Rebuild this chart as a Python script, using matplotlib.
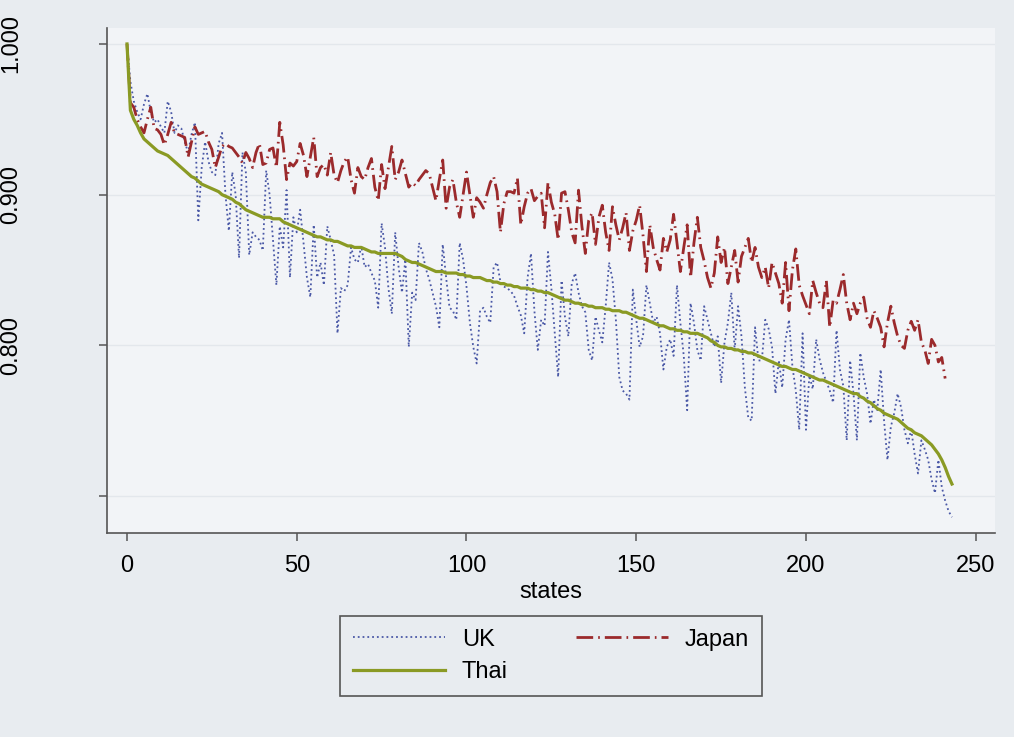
import numpy as np
import matplotlib
matplotlib.use("Agg")
import matplotlib.pyplot as plt

plt.rcParams['font.family'] = ['Liberation Sans', 'DejaVu Sans']

# values, one per state
uk = [
    1.000, 0.975, 0.962, 0.955, 0.950, 0.960, 0.967, 0.955, 0.948, 0.950,
    0.945, 0.941, 0.962, 0.955, 0.941, 0.946, 0.944, 0.935, 0.928, 0.940,
    0.948, 0.883, 0.918, 0.935, 0.922, 0.915, 0.913, 0.934, 0.941, 0.900,
    0.876, 0.915, 0.900, 0.858, 0.928, 0.915, 0.860, 0.875, 0.872, 0.870,
    0.863, 0.916, 0.900, 0.870, 0.840, 0.879, 0.865, 0.903, 0.845, 0.885,
    0.875, 0.890, 0.868, 0.845, 0.832, 0.880, 0.845, 0.855, 0.840, 0.879,
    0.870, 0.860, 0.808, 0.838, 0.836, 0.840, 0.865, 0.857, 0.855, 0.866,
    0.852, 0.854, 0.848, 0.843, 0.825, 0.881, 0.865, 0.838, 0.821, 0.875,
    0.852, 0.835, 0.857, 0.799, 0.835, 0.830, 0.868, 0.862, 0.851, 0.844,
    0.835, 0.826, 0.812, 0.867, 0.845, 0.825, 0.823, 0.817, 0.868, 0.857,
    0.839, 0.815, 0.799, 0.788, 0.823, 0.825, 0.819, 0.815, 0.852, 0.855,
    0.842, 0.839, 0.838, 0.836, 0.833, 0.826, 0.820, 0.808, 0.845, 0.861,
    0.823, 0.797, 0.817, 0.813, 0.862, 0.838, 0.808, 0.779, 0.843, 0.819,
    0.806, 0.841, 0.848, 0.835, 0.826, 0.822, 0.797, 0.790, 0.819, 0.810,
    0.802, 0.826, 0.855, 0.844, 0.817, 0.779, 0.770, 0.768, 0.764, 0.837,
    0.817, 0.799, 0.806, 0.840, 0.828, 0.815, 0.819, 0.808, 0.784, 0.799,
    0.804, 0.793, 0.840, 0.815, 0.793, 0.757, 0.828, 0.815, 0.797, 0.790,
    0.826, 0.817, 0.808, 0.799, 0.806, 0.775, 0.802, 0.815, 0.835, 0.797,
    0.826, 0.806, 0.772, 0.752, 0.750, 0.812, 0.790, 0.790, 0.817, 0.811,
    0.799, 0.768, 0.790, 0.772, 0.804, 0.817, 0.786, 0.770, 0.744, 0.808,
    0.744, 0.780, 0.771, 0.804, 0.791, 0.782, 0.776, 0.770, 0.762, 0.810,
    0.784, 0.773, 0.737, 0.790, 0.768, 0.737, 0.795, 0.779, 0.768, 0.748,
    0.764, 0.757, 0.784, 0.750, 0.724, 0.746, 0.755, 0.768, 0.759, 0.744,
    0.735, 0.744, 0.728, 0.715, 0.737, 0.731, 0.724, 0.711, 0.702, 0.724,
    0.706, 0.697, 0.690, 0.686,
]

japan = [
    1.000, 0.961, 0.958, 0.950, 0.945, 0.941, 0.950, 0.958, 0.944, 0.943,
    0.940, 0.933, 0.940, 0.948, 0.941, 0.940, 0.939, 0.938, 0.925, 0.935,
    0.945, 0.940, 0.941, 0.942, 0.935, 0.930, 0.918, 0.925, 0.932, 0.934,
    0.932, 0.931, 0.928, 0.925, 0.921, 0.928, 0.924, 0.918, 0.928, 0.934,
    0.920, 0.921, 0.930, 0.931, 0.918, 0.948, 0.933, 0.910, 0.921, 0.919,
    0.922, 0.934, 0.926, 0.912, 0.925, 0.938, 0.912, 0.918, 0.920, 0.913,
    0.928, 0.913, 0.908, 0.916, 0.922, 0.925, 0.910, 0.901, 0.918, 0.912,
    0.910, 0.918, 0.924, 0.905, 0.896, 0.920, 0.904, 0.918, 0.932, 0.910,
    0.915, 0.923, 0.914, 0.905, 0.908, 0.906, 0.910, 0.913, 0.916, 0.914,
    0.905, 0.896, 0.910, 0.923, 0.891, 0.905, 0.910, 0.895, 0.885, 0.900,
    0.915, 0.900, 0.885, 0.898, 0.895, 0.891, 0.900, 0.908, 0.912, 0.902,
    0.875, 0.894, 0.902, 0.902, 0.901, 0.911, 0.880, 0.892, 0.901, 0.904,
    0.896, 0.899, 0.901, 0.878, 0.908, 0.895, 0.887, 0.870, 0.901, 0.902,
    0.890, 0.875, 0.868, 0.903, 0.879, 0.861, 0.883, 0.888, 0.867, 0.885,
    0.893, 0.875, 0.863, 0.892, 0.880, 0.870, 0.878, 0.888, 0.863, 0.876,
    0.883, 0.893, 0.873, 0.849, 0.880, 0.865, 0.857, 0.850, 0.871, 0.862,
    0.870, 0.887, 0.868, 0.849, 0.865, 0.880, 0.845, 0.868, 0.885, 0.865,
    0.856, 0.845, 0.838, 0.848, 0.872, 0.855, 0.865, 0.841, 0.852, 0.863,
    0.842, 0.859, 0.865, 0.871, 0.855, 0.865, 0.852, 0.845, 0.852, 0.838,
    0.855, 0.848, 0.841, 0.828, 0.855, 0.823, 0.850, 0.864, 0.840, 0.833,
    0.827, 0.821, 0.843, 0.835, 0.828, 0.825, 0.843, 0.812, 0.830, 0.828,
    0.837, 0.847, 0.828, 0.817, 0.828, 0.821, 0.828, 0.832, 0.818, 0.812,
    0.823, 0.818, 0.812, 0.799, 0.815, 0.826, 0.815, 0.806, 0.800, 0.798,
    0.810, 0.816, 0.810, 0.817, 0.802, 0.797, 0.788, 0.804, 0.800, 0.789,
    0.792, 0.778,
]

thai = [
    1.000, 0.956, 0.950, 0.946, 0.941, 0.937, 0.935, 0.933, 0.931, 0.929,
    0.928, 0.927, 0.926, 0.924, 0.922, 0.920, 0.918, 0.916, 0.914, 0.912,
    0.911, 0.909, 0.907, 0.906, 0.905, 0.904, 0.903, 0.902, 0.900, 0.899,
    0.898, 0.897, 0.895, 0.894, 0.892, 0.890, 0.889, 0.888, 0.887, 0.886,
    0.885, 0.885, 0.885, 0.884, 0.884, 0.884, 0.882, 0.881, 0.880, 0.879,
    0.878, 0.877, 0.876, 0.875, 0.874, 0.873, 0.872, 0.872, 0.871, 0.870,
    0.870, 0.869, 0.869, 0.868, 0.867, 0.866, 0.866, 0.865, 0.865, 0.865,
    0.864, 0.863, 0.862, 0.862, 0.861, 0.861, 0.861, 0.861, 0.861, 0.861,
    0.860, 0.859, 0.857, 0.856, 0.855, 0.855, 0.854, 0.853, 0.852, 0.851,
    0.850, 0.849, 0.849, 0.849, 0.848, 0.848, 0.848, 0.848, 0.847, 0.847,
    0.846, 0.846, 0.845, 0.845, 0.845, 0.844, 0.843, 0.843, 0.842, 0.842,
    0.841, 0.841, 0.840, 0.840, 0.839, 0.839, 0.838, 0.838, 0.838, 0.837,
    0.837, 0.836, 0.836, 0.835, 0.835, 0.834, 0.833, 0.832, 0.831, 0.830,
    0.830, 0.829, 0.828, 0.828, 0.827, 0.827, 0.826, 0.826, 0.825, 0.825,
    0.825, 0.824, 0.824, 0.823, 0.823, 0.823, 0.822, 0.822, 0.821, 0.820,
    0.819, 0.818, 0.818, 0.817, 0.816, 0.815, 0.814, 0.813, 0.813, 0.812,
    0.811, 0.811, 0.810, 0.810, 0.809, 0.809, 0.808, 0.808, 0.808, 0.807,
    0.806, 0.805, 0.803, 0.802, 0.800, 0.799, 0.799, 0.798, 0.798, 0.797,
    0.797, 0.796, 0.796, 0.795, 0.795, 0.794, 0.793, 0.792, 0.791, 0.790,
    0.789, 0.788, 0.787, 0.786, 0.786, 0.785, 0.784, 0.784, 0.783, 0.782,
    0.781, 0.780, 0.779, 0.778, 0.777, 0.777, 0.776, 0.775, 0.774, 0.773,
    0.772, 0.771, 0.770, 0.769, 0.768, 0.768, 0.766, 0.765, 0.763, 0.762,
    0.760, 0.758, 0.757, 0.755, 0.754, 0.753, 0.752, 0.751, 0.749, 0.747,
    0.745, 0.744, 0.742, 0.741, 0.740, 0.738, 0.736, 0.734, 0.731, 0.728,
    0.724, 0.719, 0.713, 0.708,
]

y_ticks = [1.0, 0.9, 0.8, 0.7]
y_labels = ["1.000", "0.900", "0.800", ""]
x_ticks = [0, 50, 100, 150, 200, 250]

outer_bg = "#e8ecf0"
plot_bg = "#f2f4f7"

fig = plt.figure(figsize=(10.14, 7.37), dpi=100, facecolor=outer_bg)
ax = fig.add_axes([0.1055, 0.2768, 0.8755, 0.6852])
ax.set_facecolor(plot_bg)

l_uk, = ax.plot(np.arange(len(uk)), uk, color="#4a58a6", lw=1.3, ls=":",
                label="UK")
l_jp, = ax.plot(np.arange(len(japan)), japan, color="#9b2a2c", lw=2.0,
                ls=(0, (6, 1.8, 0.6, 1.8)), label="Japan")
l_th, = ax.plot(np.arange(len(thai)), thai, color="#8a9a24", lw=2.3,
                label="Thai")

ax.set_xlim(-5.9, 255.6)
ax.set_ylim(0.6755, 1.0106)
ax.set_xticks(x_ticks)
ax.set_yticks(y_ticks)
ax.set_yticklabels(y_labels)
ax.grid(axis="y", color="#e3e7ec", lw=1.0)
ax.set_axisbelow(True)

for s in ["top", "right"]:
    ax.spines[s].set_visible(False)
for s in ["left", "bottom"]:
    ax.spines[s].set_color("#555555")
    ax.spines[s].set_linewidth(1.2)

ax.tick_params(axis="x", length=6, width=1.1, color="#555555",
               labelsize=17, pad=10)
# rotated y labels pushed right against the left edge of the figure
ax.tick_params(axis="y", length=6, width=1.1, color="#555555",
               labelsize=17, pad=55, labelrotation=90)
for lab in ax.get_yticklabels():
    lab.set_verticalalignment("center")
ax.set_xlabel("states", fontsize=17, labelpad=3)

# column-major fill: UK / Thai in first column, Japan in second
leg = fig.legend([l_uk, l_th, l_jp], ["UK", "Thai", "Japan"],
                 loc="center", bbox_to_anchor=(0.5434, 0.1099), ncol=2,
                 fontsize=17, handlelength=3.9, handletextpad=0.7,
                 columnspacing=2.9, labelspacing=0.45, borderpad=0.55,
                 fancybox=False, framealpha=1, facecolor=outer_bg,
                 edgecolor="#555555")
leg.get_frame().set_linewidth(1.2)

fig.savefig("out.png", dpi=100, facecolor=outer_bg)
